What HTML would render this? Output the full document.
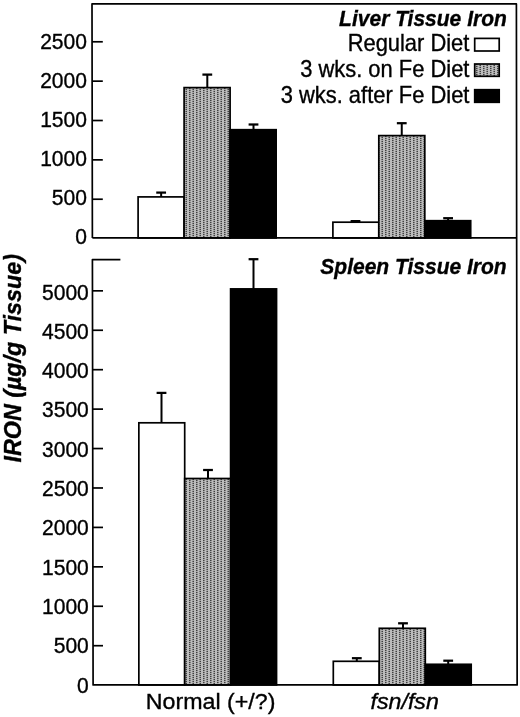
<!DOCTYPE html>
<html lang="en"><head><meta charset="utf-8"><title>Tissue Iron</title>
<style>html,body{margin:0;padding:0;background:#fff}svg{display:block}</style></head>
<body>
<svg width="520" height="717" viewBox="0 0 520 717">
<defs>
<pattern id="dots" width="7" height="2" patternUnits="userSpaceOnUse">
<rect width="7" height="2" fill="#bcbcbc"/>
<rect x="0" y="0" width="1.5" height="2" fill="#a4a4a4"/>
<rect x="3.5" y="0" width="1.5" height="2" fill="#a4a4a4"/>
<rect x="0" y="0" width="1.5" height="1" fill="#404040"/>
<rect x="3.5" y="1" width="1.5" height="1" fill="#404040"/>
</pattern>
</defs>
<rect width="520" height="717" fill="#fff"/>
<line x1="161.15" y1="192.6" x2="161.15" y2="196.9" stroke="#000" stroke-width="2"/><line x1="156.25" y1="192.6" x2="166.05" y2="192.6" stroke="#000" stroke-width="2.25"/><rect x="138.1" y="196.9" width="46.00" height="41.05" fill="#fff" stroke="#000" stroke-width="1.7"/>
<line x1="207.3" y1="74.6" x2="207.3" y2="87.6" stroke="#000" stroke-width="2"/><line x1="202.40" y1="74.6" x2="212.20" y2="74.6" stroke="#000" stroke-width="2.25"/><rect x="184.1" y="87.6" width="46.00" height="150.35" fill="url(#dots)" stroke="#000" stroke-width="1.7"/>
<line x1="253.5" y1="124.5" x2="253.5" y2="129.7" stroke="#000" stroke-width="2"/><line x1="248.60" y1="124.5" x2="258.40" y2="124.5" stroke="#000" stroke-width="2.25"/><rect x="230.1" y="129.7" width="46.05" height="108.25" fill="#000" stroke="#000" stroke-width="1.7"/>
<line x1="355.5" y1="221.1" x2="355.5" y2="222.2" stroke="#000" stroke-width="2"/><line x1="350.60" y1="221.1" x2="360.40" y2="221.1" stroke="#000" stroke-width="2.25"/><rect x="332.9" y="222.2" width="45.90" height="15.75" fill="#fff" stroke="#000" stroke-width="1.7"/>
<line x1="401.75" y1="123.2" x2="401.75" y2="135.6" stroke="#000" stroke-width="2"/><line x1="396.85" y1="123.2" x2="406.65" y2="123.2" stroke="#000" stroke-width="2.25"/><rect x="378.8" y="135.6" width="46.00" height="102.35" fill="url(#dots)" stroke="#000" stroke-width="1.7"/>
<line x1="448.1" y1="218.2" x2="448.1" y2="220.7" stroke="#000" stroke-width="2"/><line x1="443.20" y1="218.2" x2="453.00" y2="218.2" stroke="#000" stroke-width="2.25"/><rect x="424.8" y="220.7" width="45.90" height="17.25" fill="#000" stroke="#000" stroke-width="1.7"/>
<line x1="161.5" y1="392.9" x2="161.5" y2="422.8" stroke="#000" stroke-width="2"/><line x1="156.60" y1="392.9" x2="166.40" y2="392.9" stroke="#000" stroke-width="2.25"/><rect x="138.85" y="422.8" width="45.85" height="262.15" fill="#fff" stroke="#000" stroke-width="1.7"/>
<line x1="208.0" y1="470.0" x2="208.0" y2="478.5" stroke="#000" stroke-width="2"/><line x1="203.10" y1="470.0" x2="212.90" y2="470.0" stroke="#000" stroke-width="2.25"/><rect x="184.7" y="478.5" width="45.90" height="206.45" fill="url(#dots)" stroke="#000" stroke-width="1.7"/>
<line x1="253.5" y1="259.2" x2="253.5" y2="288.9" stroke="#000" stroke-width="2"/><line x1="248.60" y1="259.2" x2="258.40" y2="259.2" stroke="#000" stroke-width="2.25"/><rect x="230.6" y="288.9" width="45.95" height="396.05" fill="#000" stroke="#000" stroke-width="1.7"/>
<line x1="356.8" y1="658.2" x2="356.8" y2="661.3" stroke="#000" stroke-width="2"/><line x1="351.90" y1="658.2" x2="361.70" y2="658.2" stroke="#000" stroke-width="2.25"/><rect x="333.3" y="661.3" width="46.00" height="23.65" fill="#fff" stroke="#000" stroke-width="1.7"/>
<line x1="403.0" y1="623.3" x2="403.0" y2="628.3" stroke="#000" stroke-width="2"/><line x1="398.10" y1="623.3" x2="407.90" y2="623.3" stroke="#000" stroke-width="2.25"/><rect x="379.3" y="628.3" width="46.00" height="56.65" fill="url(#dots)" stroke="#000" stroke-width="1.7"/>
<line x1="448.2" y1="660.7" x2="448.2" y2="664.3" stroke="#000" stroke-width="2"/><line x1="443.30" y1="660.7" x2="453.10" y2="660.7" stroke="#000" stroke-width="2.25"/><rect x="425.3" y="664.3" width="45.90" height="20.65" fill="#000" stroke="#000" stroke-width="1.7"/>
<g stroke="#000" stroke-width="1.7" fill="none" stroke-linecap="butt" stroke-linejoin="round">
<path d="M92.38 237.95 L92.00 3.95 L516.40 3.95 L517.15 684.95 L93.10 684.95 L92.41 259.6 H120.4"/>
<path d="M92.38 237.95 H516.66"/>
<path d="M92.32 199.23 H102.8"/>
<path d="M92.25 159.87 H102.8"/>
<path d="M92.19 120.51 H102.8"/>
<path d="M92.12 81.15 H102.8"/>
<path d="M92.06 41.79 H102.8"/>
<path d="M93.04 645.70 H103.0"/>
<path d="M92.97 606.27 H103.0"/>
<path d="M92.91 566.84 H103.0"/>
<path d="M92.85 527.41 H103.0"/>
<path d="M92.78 487.98 H103.0"/>
<path d="M92.72 448.55 H103.0"/>
<path d="M92.65 409.12 H103.0"/>
<path d="M92.59 369.69 H103.0"/>
<path d="M92.53 330.26 H103.0"/>
<path d="M92.46 290.83 H103.0"/>
</g>
<g font-family="'Liberation Sans', Arial, Helvetica, sans-serif" font-size="21.8px" fill="#000" stroke="#000" stroke-width="0.35" text-anchor="end">
<text transform="translate(86.9 244.45) scale(0.965 1)">0</text>
<text transform="translate(86.9 205.40) scale(0.965 1)">500</text>
<text transform="translate(86.9 166.35) scale(0.965 1)">1000</text>
<text transform="translate(86.9 127.30) scale(0.965 1)">1500</text>
<text transform="translate(86.9 88.25) scale(0.965 1)">2000</text>
<text transform="translate(86.9 49.20) scale(0.965 1)">2500</text>
<text transform="translate(88.8 692.61) scale(0.965 1)">0</text>
<text transform="translate(88.8 653.30) scale(0.965 1)">500</text>
<text transform="translate(88.8 613.99) scale(0.965 1)">1000</text>
<text transform="translate(88.8 574.68) scale(0.965 1)">1500</text>
<text transform="translate(88.8 535.37) scale(0.965 1)">2000</text>
<text transform="translate(88.8 496.06) scale(0.965 1)">2500</text>
<text transform="translate(88.8 456.75) scale(0.965 1)">3000</text>
<text transform="translate(88.8 417.44) scale(0.965 1)">3500</text>
<text transform="translate(88.8 378.13) scale(0.965 1)">4000</text>
<text transform="translate(88.8 338.82) scale(0.965 1)">4500</text>
<text transform="translate(88.8 299.51) scale(0.965 1)">5000</text>
</g>
<g font-family="'Liberation Sans', Arial, Helvetica, sans-serif" fill="#000" stroke="#000" stroke-width="0.35">
<text transform="translate(506.8 25.6) scale(0.977 1)" font-size="21.5px" font-weight="bold" font-style="italic" text-anchor="end">Liver Tissue Iron</text>
<text transform="translate(506.7 273.6) scale(0.977 1)" font-size="21.5px" font-weight="bold" font-style="italic" text-anchor="end">Spleen Tissue Iron</text>
<text transform="translate(469.4 51.4) scale(0.953 1)" font-size="23px" text-anchor="end">Regular Diet</text>
<text transform="translate(469.4 77.4) scale(0.953 1)" font-size="23px" text-anchor="end">3 wks. on Fe Diet</text>
<text transform="translate(469.4 103.4) scale(0.953 1)" font-size="23px" text-anchor="end">3 wks. after Fe Diet</text>
<text transform="translate(145.8 708.9) scale(1.055 1)" font-size="22px">Normal (+/?)</text>
<text transform="translate(370.5 708.9) scale(1.055 1)" font-size="22px" font-style="italic">fsn/fsn</text>
<text transform="translate(20.8 462.5) rotate(-90) scale(1 1.06)" font-size="23.3px" font-weight="bold" font-style="italic">IRON (µg/g Tissue)</text>
</g>
<rect x="474.7" y="38.4" width="24.5" height="12.6" fill="#fff" stroke="#000" stroke-width="1.7"/>
<rect x="474.7" y="64.0" width="24.5" height="12.3" fill="url(#dots)" stroke="#000" stroke-width="1.7"/>
<rect x="474.7" y="89.7" width="24.5" height="12.6" fill="#000" stroke="#000" stroke-width="1.7"/>
</svg>
</body></html>
